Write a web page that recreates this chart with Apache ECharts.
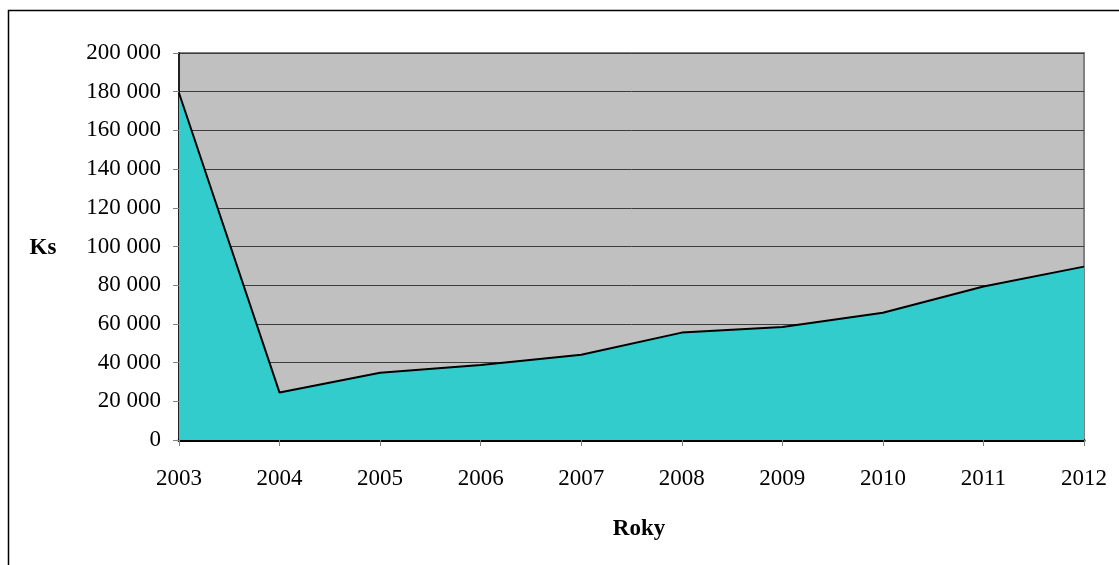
<!DOCTYPE html>
<html>
<head>
<meta charset="utf-8">
<script src="https://cdn.jsdelivr.net/npm/echarts@6/dist/echarts.min.js"></script>
<style>
  html, body { margin: 0; padding: 0; background: #ffffff; }
  #chart { width: 1119px; height: 565px; }
</style>
</head>
<body>
<div id="chart"></div>
<script>
// Roční částky (Kč) za období 2003–2012
const years = ['2003', '2004', '2005', '2006', '2007', '2008', '2009', '2010', '2011', '2012'];
const amounts = [179300, 24500, 34800, 38800, 44100, 55500, 58400, 65800, 79300, 89600];
const yTicks = { min: 0, max: 200000, step: 20000 };

const FONT = '"Liberation Serif", "Times New Roman", serif';
const FONT_SIZE = 23;

function formatThousands(v) {
  return String(v).replace(/\B(?=(\d{3})+(?!\d))/g, ' ');
}

const chart = echarts.init(document.getElementById('chart'), null, { renderer: 'canvas' });

chart.setOption({
  animation: false,
  backgroundColor: '#ffffff',
  grid: {
    left: 179, top: 53, right: 35, bottom: 125,
    show: true,
    backgroundColor: '#c0c0c0',
    borderColor: '#808080',
    borderWidth: 2
  },
  xAxis: {
    type: 'category',
    data: years,
    boundaryGap: false,
    axisLine: { lineStyle: { color: '#000000', width: 3 } },
    axisTick: { show: true, length: 6, inside: false, lineStyle: { color: '#808080', width: 1 } },
    axisLabel: { color: '#000000', fontFamily: FONT, fontSize: FONT_SIZE, margin: 27 },
    splitLine: { show: false }
  },
  yAxis: {
    type: 'value',
    min: yTicks.min,
    max: yTicks.max,
    interval: yTicks.step,
    axisLine: { show: true, lineStyle: { color: '#000000', width: 1.5 } },
    axisTick: { show: true, length: 6, lineStyle: { color: '#808080', width: 1 } },
    axisLabel: {
      color: '#000000', fontFamily: FONT, fontSize: FONT_SIZE, margin: 18,
      formatter: formatThousands
    },
    splitLine: { show: true, lineStyle: { color: '#3c3c3c', width: 1 } }
  },
  series: [{
    type: 'line',
    data: amounts,
    symbol: 'none',
    lineStyle: { color: '#000000', width: 2 },
    areaStyle: { color: '#33cccc', opacity: 1 },
    z: 3
  }],
  graphic: [
    {
      type: 'rect',
      shape: { x: 8.5, y: 10.5, width: 1300, height: 700 },
      style: { fill: 'none', stroke: '#000000', lineWidth: 1.5 },
      silent: true
    },
    {
      type: 'text',
      x: 43, y: 248,
      style: {
        text: 'Ks', fill: '#000000',
        font: 'bold ' + FONT_SIZE + 'px ' + FONT,
        textAlign: 'center', textVerticalAlign: 'middle'
      }
    },
    {
      type: 'text',
      x: 639, y: 529,
      style: {
        text: 'Roky', fill: '#000000',
        font: 'bold ' + FONT_SIZE + 'px ' + FONT,
        textAlign: 'center', textVerticalAlign: 'middle'
      }
    }
  ]
});
</script>
</body>
</html>
